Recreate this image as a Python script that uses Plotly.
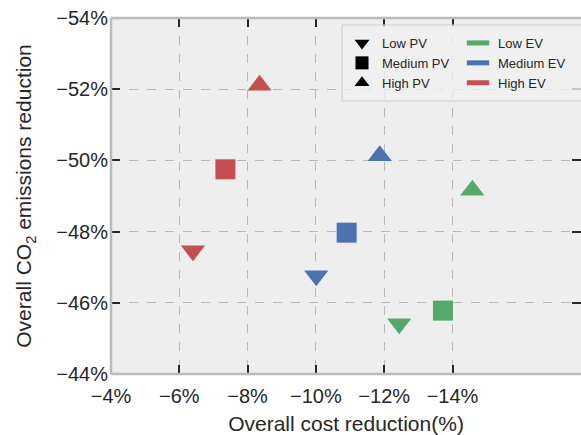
import plotly.graph_objects as go

# Overall cost reduction (%) and CO2 emissions reduction (%) per scenario
ev_levels = ["Low EV", "Medium EV", "High EV"]
pv_levels = ["Low PV", "Medium PV", "High PV"]
ev_colors = ["#55A868", "#4C72B0", "#C44E52"]
pv_symbols = ["triangle-down", "square", "triangle-up"]

cost_low_ev = [-12.44, -13.72, -14.58]
co2_low_ev = [-45.41, -45.78, -49.16]
cost_medium_ev = [-10.01, -10.90, -11.87]
co2_medium_ev = [-46.76, -47.97, -50.13]
cost_high_ev = [-6.40, -7.35, -8.35]
co2_high_ev = [-47.46, -49.75, -52.11]

x_ticks = [-4, -6, -8, -10, -12, -14]
y_ticks = [-44, -46, -48, -50, -52, -54]

cost_series = [cost_low_ev, cost_medium_ev, cost_high_ev]
co2_series = [co2_low_ev, co2_medium_ev, co2_high_ev]


def pct_label(v):
    return ("\u2212" if v < 0 else "") + f"{abs(v)}%"


FONT = "Arial, Liberation Sans, sans-serif"
TEXT = "#262626"

fig = go.Figure()

# scenario points: colour = EV level, symbol = PV level
for ev, color, xs, ys in zip(ev_levels, ev_colors, cost_series, co2_series):
    for pv, sym, x, y in zip(pv_levels, pv_symbols, xs, ys):
        is_tri = sym.startswith("triangle")
        fig.add_trace(go.Scatter(
            x=[x], y=[y], mode="markers", showlegend=False,
            marker=dict(symbol=sym, size=21 if is_tri else 20, color=color,
                        line=dict(width=0)),
            hovertemplate=f"{ev}, {pv}<br>%{{x}}%, %{{y}}%<extra></extra>",
        ))

# legend entries: PV level (marker shape)
for pv, sym in zip(pv_levels, pv_symbols):
    fig.add_trace(go.Scatter(
        x=[None], y=[None], mode="markers", name=pv, legend="legend",
        marker=dict(symbol=sym, size=13, color="black"),
    ))

# legend entries: EV level (colour)
for ev, color in zip(ev_levels, ev_colors):
    fig.add_trace(go.Scatter(
        x=[None], y=[None], mode="markers", name=ev, legend="legend2",
        marker=dict(symbol="line-ew", size=16, color=color,
                    line=dict(width=5, color=color)),
    ))

W, H = 581, 435
ML, MR, MT, MB = 111, 0, 18, 61
PW, PH = W - ML - MR, H - MT - MB


def px_x(p):
    return (p - ML) / PW


def px_y(p):
    return 1 - (p - MT) / PH


tick_font = dict(family=FONT, size=20, color=TEXT)
title_font = dict(family=FONT, size=21, color=TEXT)

fig.update_xaxes(
    range=[-4, -4 - PW / 34.15],
    tickmode="array", tickvals=x_ticks, ticktext=[pct_label(v) for v in x_ticks],
    showline=False, zeroline=False,
    showgrid=True, gridcolor="#B8B8B8", gridwidth=1, griddash="dash",
    ticks="inside", ticklen=9, tickwidth=2, tickcolor="#262626", mirror="ticks",
    tickfont=tick_font, ticklabelstandoff=8,
    title=dict(text="Overall cost reduction(%)", font=title_font, standoff=14),
)
fig.update_yaxes(
    range=[-44, -54],
    tickmode="array", tickvals=y_ticks, ticktext=[pct_label(v) for v in y_ticks],
    showline=False, zeroline=False,
    showgrid=True, gridcolor="#B8B8B8", gridwidth=1, griddash="dash",
    ticks="inside", ticklen=9, tickwidth=2, tickcolor="#262626", mirror="ticks",
    tickfont=tick_font, ticklabelstandoff=2,
    title=dict(text="Overall CO<sub>2</sub> emissions reduction", font=title_font, standoff=18),
)

# frame on left, top and bottom of the plotting area
border = dict(color="#BBBBBB", width=2.5)
fig.add_shape(type="line", xref="paper", yref="paper", x0=0, x1=0, y0=0, y1=1, line=border, layer="above")
fig.add_shape(type="line", xref="paper", yref="paper", x0=0, x1=1.01, y0=1, y1=1, line=border, layer="above")
fig.add_shape(type="line", xref="paper", yref="paper", x0=0, x1=1.01, y0=0, y1=0, line=border, layer="above")

# legend frame
fig.add_shape(type="rect", xref="paper", yref="paper",
              x0=px_x(342), x1=px_x(590), y0=px_y(101), y1=px_y(25),
              line=dict(color="#CCCCCC", width=1), fillcolor="rgba(240,240,240,0.8)",
              layer="above")

legend_common = dict(
    bgcolor="rgba(0,0,0,0)", borderwidth=0, yanchor="top", xanchor="left",
    font=dict(family=FONT, size=13, color=TEXT), tracegroupgap=0,
    itemsizing="trace",
)
fig.update_layout(
    width=W, height=H,
    margin=dict(l=ML, r=MR, t=MT, b=MB),
    paper_bgcolor="white", plot_bgcolor="#EEEEEE",
    legend=dict(x=px_x(342), y=px_y(28), **legend_common),
    legend2=dict(x=px_x(458), y=px_y(28), **legend_common),
)

fig.write_html("out.html")
